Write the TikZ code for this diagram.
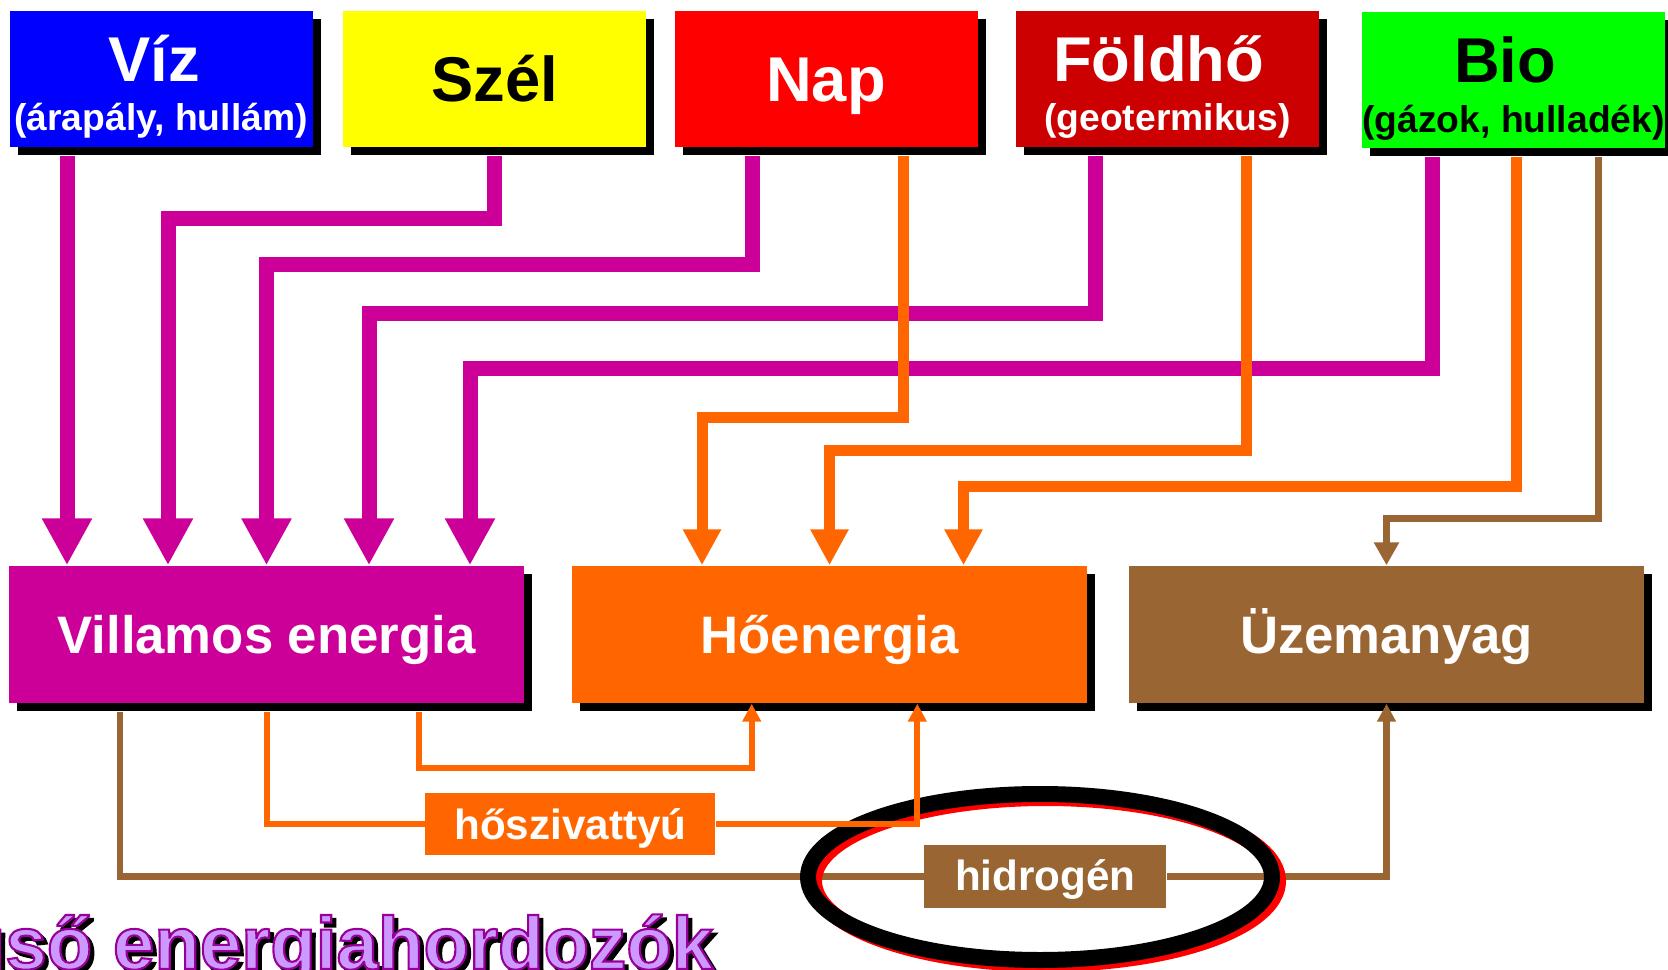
\documentclass[tikz,border=0pt]{standalone}
\usepackage{fontspec}
\setmainfont{Liberation Sans}
\usetikzlibrary{arrows.meta,shadows}

\definecolor{vizblue}{HTML}{0000FF}
\definecolor{szelyellow}{HTML}{FFFF00}
\definecolor{napred}{HTML}{FF0000}
\definecolor{foldred}{HTML}{CC0000}
\definecolor{biogreen}{HTML}{00FF00}
\definecolor{magc}{HTML}{CC0099}
\definecolor{orac}{HTML}{FF6600}
\definecolor{broc}{HTML}{996633}
\definecolor{titlefill}{HTML}{CC99FF}

\newcommand\ttlfont{\bfseries\fontsize{21.2}{24}\selectfont}
% filled and stroked glyphs: #1 = stroke width (bp), #2 = stroke colour (RGB, 0..1), #3 = text
\newcommand\strokedtext[3]{\special{pdf:literal direct 2 Tr #1 w #2 RG}#3\special{pdf:literal direct 0 Tr}}

\begin{document}
\begin{tikzpicture}[x=0.1mm, y=-0.1mm,
  box/.style={rectangle, inner sep=0pt, minimum width=30.3mm, minimum height=13.6mm,
    drop shadow={shadow xshift=0.8mm, shadow yshift=-0.8mm, fill=black, opacity=1},
    font=\bfseries\fontsize{18}{20}\selectfont, text height=12.9pt, text depth=0pt},
  bigbox/.style={box, minimum width=51.5mm, minimum height=13.7mm, text=white,
    font=\bfseries\fontsize{15}{18}\selectfont, text height=10.74pt},
  tag/.style={rectangle, inner sep=0pt, minimum height=6.26mm, text=white,
    font=\bfseries\fontsize{12}{14}\selectfont, text height=8.6pt, text depth=0pt},
  headline/.style={anchor=base, inner sep=0pt, font=\bfseries\fontsize{18}{20}\selectfont},
  subline/.style={anchor=base, inner sep=0pt, font=\bfseries\fontsize{10.6}{12}\selectfont},
  mag/.style={draw=magc, line width=1.5mm, -{Triangle[width=4.7mm,length=4.7mm]}},
  ora/.style={draw=orac, line width=1.1mm, -{Triangle[width=3.6mm,length=3.6mm]}},
  brotop/.style={draw=broc, line width=0.7mm, -{Triangle[width=2.4mm,length=2.3mm]}},
  thinora/.style={draw=orac, line width=0.6mm},
  thinbro/.style={draw=broc, line width=0.65mm},
  smallhead/.style={-{Triangle[width=1.8mm,length=1.8mm]}},
  ring/.style={line width=1.6mm}
]
\useasboundingbox (0,0) rectangle (1668,970);
\clip (0,0) rectangle (1668,970);

% primary sources
\node[box, fill=vizblue] (viz) at (161,79) {};
\node[box, fill=szelyellow, text=black] (szel) at (494.5,79) {Szél};
\node[box, fill=napred, text=white] (nap) at (826,79) {Nap};
\node[box, fill=foldred] (fold) at (1167.5,79) {};
\node[box, fill=biogreen] (bio) at (1513.5,80.5) {};

\node[headline, text=white] (vizT) at (154,82) {Víz};
\node[subline, text=white] (vizS) at (161,131) {(árapály, hullám)};
\node[headline, text=white] (foldT) at (1158.5,82) {Földhő};
\node[subline, text=white] (foldS) at (1167.5,131) {(geotermikus)};
\node[headline, text=black] (bioT) at (1505,83) {Bio};
\node[subline, text=black] (bioS) at (1513.5,132.5) {(gázok, hulladék)};

% final energy forms
\node[bigbox, fill=magc] (vil) at (266.5,634.5) {Villamos energia};
\node[bigbox, fill=orac] (hoen) at (829.5,634.5) {Hőenergia};
\node[bigbox, fill=broc] (uzem) at (1386.5,634.5) {Üzemanyag};

% conversion labels
\node[tag, fill=orac, minimum width=29mm] (hosz) at (570.4,824) {hőszivattyú};
\node[tag, fill=broc, minimum width=24.2mm, text height=7.8pt] (hidr) at (1045.2,876.4) {hidrogén};

% columns and rows of the routing grid
\coordinate (xVizM) at (67,0);
\coordinate (xNapM) at (752,0);
\coordinate (xFoldM) at (1095,0);
\coordinate (xBioM) at (1432,0);
\coordinate (xNapO) at (903,0);
\coordinate (xFoldO) at (1246,0);
\coordinate (xBioO) at (1516,0);
\coordinate (xBioB) at (1598.5,0);
\coordinate (xV2) at (168,0);
\coordinate (xV4) at (369,0);
\coordinate (xV5) at (470,0);
\coordinate (xH1) at (702,0);
\coordinate (xH3) at (963.5,0);
\coordinate (ySzel) at (0,219);
\coordinate (yNap) at (0,265);
\coordinate (yFold) at (0,314);
\coordinate (yBio) at (0,369);
\coordinate (yNapO) at (0,418);
\coordinate (yFoldO) at (0,451);
\coordinate (yBioO) at (0,487);
\coordinate (yBioB) at (0,519);
\coordinate (xVbro) at (120,0);
\coordinate (xVora) at (419.4,0);
\coordinate (xHa) at (751.7,0);
\coordinate (xHb) at (917.3,0);
\coordinate (yLoop) at (0,767.5);

% electricity
\draw[mag] ([yshift=-0.8mm]viz.south -| xVizM) -- (vil.north -| xVizM);
\draw[mag] ([yshift=-0.8mm]szel.south) |- (xV2 |- ySzel) -- (vil.north -| xV2);
\draw[mag] ([yshift=-0.8mm]nap.south -| xNapM) |- (vil.north |- yNap) -- (vil.north);
\draw[mag] ([yshift=-0.8mm]fold.south -| xFoldM) |- (xV4 |- yFold) -- (vil.north -| xV4);
\draw[mag] ([yshift=-0.8mm]bio.south -| xBioM) |- (xV5 |- yBio) -- (vil.north -| xV5);

% heat
\draw[ora] ([yshift=-0.8mm]nap.south -| xNapO) |- (xH1 |- yNapO) -- (hoen.north -| xH1);
\draw[ora] ([yshift=-0.8mm]fold.south -| xFoldO) |- (hoen.north |- yFoldO) -- (hoen.north);
\draw[ora] ([yshift=-0.8mm]bio.south -| xBioO) |- (xH3 |- yBioO) -- (hoen.north -| xH3);

% fuel
\draw[brotop] ([yshift=-0.8mm]bio.south -| xBioB) |- (uzem.north |- yBioB) -- (uzem.north);

% electricity to fuel via hydrogen
\draw[thinbro] ([yshift=-0.8mm]vil.south -| xVbro) |- (hidr.west);
\draw[thinbro, smallhead] (hidr.east) -| (uzem.south);

% hydrogen highlight ring
\draw[ring, red] (1046,881) ellipse [x radius=23.2mm, y radius=8.3mm];
\draw[ring, black] (1040,877) ellipse [x radius=23.2mm, y radius=8.3mm];

% electricity to heat
\draw[thinora] ([yshift=-0.8mm]vil.south) |- (hosz.west);
\draw[thinora, smallhead] (hosz.east) -| (hoen.south -| xHb);
\draw[thinora, smallhead] ([yshift=-0.8mm]vil.south -| xVora) |- (xHa |- yLoop) -- (hoen.south -| xHa);

% caption
\node[anchor=base west, inner sep=0pt, font=\ttlfont, text=black] (titleshade) at (-128,973)
  {\strokedtext{0.6}{0 0 0}{Végső energiahordozók}};
\node[anchor=base west, inner sep=0pt, font=\ttlfont, text=titlefill] (title) at (-132,969)
  {\strokedtext{0.6}{0.6 0 0.6}{Végső energiahordozók}};
\end{tikzpicture}
\end{document}
